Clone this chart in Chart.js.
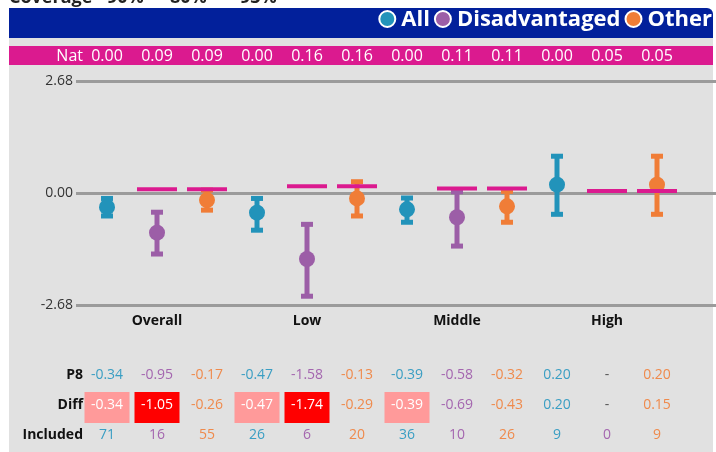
<!DOCTYPE html>
<html>
<head>
<meta charset="utf-8">
<script src="https://cdn.jsdelivr.net/npm/chart.js@4.4.0/dist/chart.umd.min.js"></script>
<style>
  body { margin: 0; background: #fff; }
  canvas { display: block; }
</style>
</head>
<body>
<canvas id="p8Chart" width="716" height="452"></canvas>
<script>
// ---- data ----
const groups = ['Overall', 'Low', 'Middle', 'High'];
const seriesNames = ['All', 'Disadvantaged', 'Other'];
const natValues = [0.00, 0.09, 0.09, 0.00, 0.16, 0.16, 0.00, 0.11, 0.11, 0.00, 0.05, 0.05];
const p8Values = [-0.34, -0.95, -0.17, -0.47, -1.58, -0.13, -0.39, -0.58, -0.32, 0.20, null, 0.20];
const ciLow = [-0.55, -1.46, -0.41, -0.89, -2.47, -0.55, -0.70, -1.27, -0.70, -0.51, null, -0.51];
const ciHigh = [-0.13, -0.46, 0.07, -0.13, -0.75, 0.27, -0.12, 0.03, 0.04, 0.88, null, 0.88];
const diffValues = [-0.34, -1.05, -0.26, -0.47, -1.74, -0.29, -0.39, -0.69, -0.43, 0.20, null, 0.15];
const diffLevel = [1, 2, 0, 1, 2, 0, 1, 0, 0, 0, 0, 0]; // 1 = pale red, 2 = red
const includedValues = [71, 16, 55, 26, 6, 20, 36, 10, 26, 9, 0, 9];
const yTicks = [-2.68, 0, 2.68];
const coverageText = ['Coverage', '-', '90%', '-', '80%', '-', '93%'];

const colors = ['#2293ba', '#9c5ea7', '#f07d37'];
const textColors = ['#3a9ec3', '#a466af', '#ef8a4c'];
const natColor = '#db1a8f';
const FONT = '"Open Sans", "Noto Sans", sans-serif';

function seriesPoints(s) {
    const pts = [];
    p8Values.forEach(function(v, i) {
        if (i % 3 === s && v !== null) pts.push({ x: i, y: v });
    });
    return pts;
}

const natPoints = [];
natValues.forEach(function(v, i) {
    if (i % 3 !== 0) natPoints.push({ x: i, y: v });
});

const datasets = [{
    label: 'Nat',
    data: natPoints,
    pointStyle: 'line',
    pointRadius: 20,
    pointBorderWidth: 4,
    borderColor: natColor,
    backgroundColor: natColor,
    order: 0
}];
seriesNames.forEach(function(name, s) {
    datasets.push({
        label: name,
        data: seriesPoints(s),
        pointRadius: 8,
        pointBorderWidth: 0,
        backgroundColor: colors[s],
        borderColor: colors[s],
        order: 1
    });
});

// error bars, drawn under the dots
const errorBars = {
    id: 'errorBars',
    beforeDatasetsDraw(chart) {
        const ctx = chart.ctx, xs = chart.scales.x, ys = chart.scales.y;
        ctx.save();
        ciLow.forEach(function(lo, i) {
            if (lo === null) return;
            const x = xs.getPixelForValue(i);
            const y1 = ys.getPixelForValue(lo);
            const y2 = ys.getPixelForValue(ciHigh[i]);
            ctx.strokeStyle = colors[i % 3];
            ctx.fillStyle = colors[i % 3];
            ctx.lineWidth = 5;
            ctx.beginPath();
            ctx.moveTo(x, y1);
            ctx.lineTo(x, y2);
            ctx.stroke();
            ctx.fillRect(x - 6, y1 - 2.5, 12, 5);
            ctx.fillRect(x - 6, y2 - 2.5, 12, 5);
        });
        ctx.restore();
    }
};

// bands, legend, table
const decorations = {
    id: 'decorations',
    beforeDraw(chart) {
        const ctx = chart.ctx;
        ctx.save();
        ctx.fillStyle = '#ffffff';
        ctx.fillRect(0, 0, chart.width, chart.height);
        ctx.fillStyle = '#e1e1e1';
        ctx.fillRect(9, 38, 704, 414);
        ctx.fillStyle = '#02209b';
        ctx.beginPath();
        ctx.roundRect(9, 8, 704, 30, [0, 6, 0, 0]);
        ctx.fill();
        ctx.fillStyle = natColor;
        ctx.fillRect(9, 46, 704, 19);
        ctx.restore();
    },
    afterDraw(chart) {
        const ctx = chart.ctx, xs = chart.scales.x;
        const colX = function(i) { return xs.getPixelForValue(i); };
        ctx.save();

        // clipped title at the very top
        ctx.fillStyle = '#222';
        ctx.font = 'bold 18px ' + FONT;
        ctx.textBaseline = 'alphabetic';
        ctx.textAlign = 'left';
        const titleX = [9, 97, 107, 157, 170, 227, 240];
        coverageText.forEach(function(t, k) { ctx.fillText(t, titleX[k], 3); });

        // legend
        ctx.font = 'bold 22px ' + FONT;
        ctx.textBaseline = 'middle';
        let end = 712;
        for (let s = seriesNames.length - 1; s >= 0; s--) {
            const w = ctx.measureText(seriesNames[s]).width;
            const tx = end - w;
            ctx.fillStyle = '#ffffff';
            ctx.textAlign = 'left';
            ctx.fillText(seriesNames[s], tx, 20);
            const cx = tx - 14;
            ctx.beginPath();
            ctx.arc(cx, 19, 8, 0, Math.PI * 2);
            ctx.fillStyle = colors[s];
            ctx.fill();
            ctx.lineWidth = 2;
            ctx.strokeStyle = '#ffffff';
            ctx.stroke();
            end = cx - 13;
        }

        // Nat row
        ctx.font = '16px ' + FONT;
        ctx.fillStyle = '#ffffff';
        ctx.textAlign = 'right';
        ctx.fillText('Nat', 83, 56);
        ctx.textAlign = 'center';
        natValues.forEach(function(v, i) { ctx.fillText(v.toFixed(2), colX(i), 56); });

        // group labels
        ctx.font = 'bold 14px ' + FONT;
        ctx.fillStyle = '#111';
        groups.forEach(function(g, k) { ctx.fillText(g, colX(k * 3 + 1), 321); });

        // table
        const rows = [['P8', 375, p8Values], ['Diff', 405, diffValues], ['Included', 435, includedValues]];
        rows.forEach(function(r) {
            ctx.font = 'bold 14px ' + FONT;
            ctx.fillStyle = '#111';
            ctx.textAlign = 'right';
            ctx.fillText(r[0], 83, r[1]);
            ctx.font = '14px ' + FONT;
            ctx.textAlign = 'center';
            r[2].forEach(function(v, i) {
                const x = colX(i);
                let txt, col = textColors[i % 3];
                if (v === null) { txt = '-'; col = '#555'; }
                else txt = r[0] === 'Included' ? String(v) : v.toFixed(2);
                if (r[0] === 'Diff' && diffLevel[i] > 0) {
                    ctx.fillStyle = diffLevel[i] === 2 ? '#ff0000' : '#ff9a9a';
                    ctx.fillRect(x - 22.5, 392, 45, 31);
                    col = '#ffffff';
                }
                ctx.fillStyle = col;
                ctx.fillText(txt, x, r[1]);
            });
        });
        ctx.restore();
    }
};

const ctx = document.getElementById('p8Chart').getContext('2d');
const p8Chart = new Chart(ctx, {
    type: 'scatter',
    data: { datasets: datasets },
    options: {
        responsive: false,
        devicePixelRatio: 1,
        animation: false,
        layout: { autoPadding: false, padding: { top: 81, bottom: 147, left: 0, right: 0 } },
        plugins: { legend: { display: false }, tooltip: { enabled: false } },
        scales: {
            x: { type: 'linear', min: -0.62, max: 12.18, display: false },
            y: {
                min: -2.68,
                max: 2.68,
                afterBuildTicks: function(scale) {
                    scale.ticks = yTicks.map(function(v) { return { value: v }; });
                },
                afterFit: function(scale) { scale.width = 76; },
                border: { display: false },
                grid: { color: '#9b9b9b', lineWidth: 3, drawTicks: false },
                ticks: {
                    padding: 3,
                    color: '#333',
                    font: { family: FONT, size: 14 },
                    callback: function(v) { return Number(v).toFixed(2); }
                }
            }
        }
    },
    plugins: [errorBars, decorations]
});
</script>
</body>
</html>
